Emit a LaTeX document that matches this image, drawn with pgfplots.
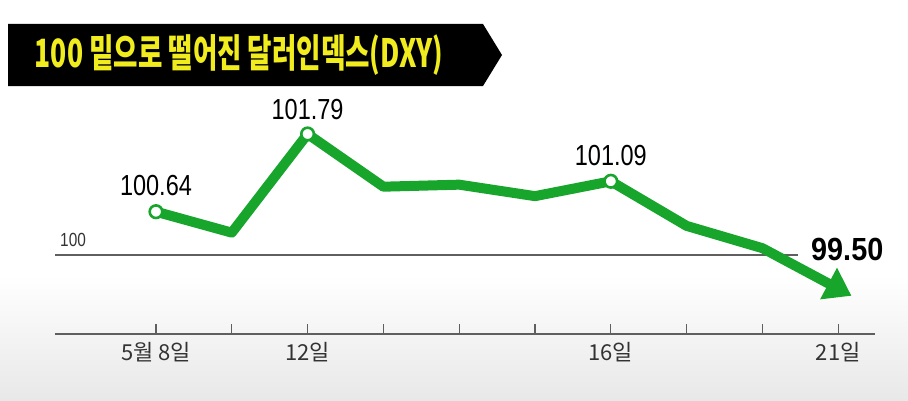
\documentclass[border=0pt]{standalone}
\usepackage{fontspec}
\usepackage{pgfplots}
\pgfplotsset{compat=1.18}
\usetikzlibrary{arrows.meta}
\setmainfont{Noto Sans CJK KR}
\newfontfamily\titlefont[FakeStretch=0.68]{Noto Sans CJK KR}
\newfontfamily\numfont[FakeStretch=0.81]{Liberation Sans}
\newfontfamily\bignumfont[FakeStretch=0.9]{Liberation Sans}
\definecolor{dgreen}{RGB}{24,165,44}
\definecolor{tyellow}{RGB}{240,236,30}
\definecolor{axgray}{RGB}{95,95,95}
\begin{document}
\begin{tikzpicture}
\begin{scope}[x=1bp,y=1bp]
\path[use as bounding box] (0,0) rectangle (908,400);
\shade[top color=white,bottom color=black!9] (0,0) rectangle (908,125);
\fill[black] (8,376) -- (483,376) -- (502,345) -- (483,314) -- (8,314) -- cycle;
\node[text=tyellow, inner sep=0pt, font=\titlefont\bfseries\fontsize{39bp}{39bp}\selectfont] at (239,345) {100 밑으로 떨어진 달러인덱스(DXY)};
\end{scope}
\begin{axis}[
  at={(55bp,66bp)}, anchor=south west, scale only axis,
  width=820bp, height=234bp,
  xmin=-1.332, xmax=9.485, ymin=98.83, ymax=102.293,
  axis x line*=bottom, axis y line=none, clip=false,
  axis line style={axgray, line width=2bp},
  xtick={0,1,2,3,4,5,6,7,8,9},
  xticklabels={5월 8일,,12일,,,,16일,,,21일},
  xtick align=inside, major tick length=10bp,
  tick style={axgray, line width=1.2bp},
  xticklabel style={font=\fontsize{22bp}{22bp}\selectfont, text=black!80, yshift=-5bp},
]
\addplot[axgray, line width=1.5bp, forget plot] coordinates {(-1.332,100) (8.47,100)};
\addplot[dgreen, line width=10bp, line join=round, shorten >=-15bp, -{Triangle[length=26bp,width=34bp]}] coordinates {
 (0,100.64) (1,100.33) (2,101.79) (3,101.01) (4,101.04) (5,100.87) (6,101.09) (7,100.43) (8,100.10) (9,99.50)};
\addplot[only marks, mark=*, mark size=6.3bp, mark options={fill=white, draw=dgreen, line width=2.6bp}] coordinates {(0,100.64) (2,101.79) (6,101.09)};
\node[font=\numfont\fontsize{29bp}{29bp}\selectfont, inner sep=0pt] at (axis cs:0,100.64) [yshift=26bp] {100.64};
\node[font=\numfont\fontsize{29bp}{29bp}\selectfont, inner sep=0pt] at (axis cs:2,101.79) [yshift=24bp] {101.79};
\node[font=\numfont\fontsize{29bp}{29bp}\selectfont, inner sep=0pt] at (axis cs:6,101.09) [yshift=26bp] {101.09};
\node[font=\bignumfont\bfseries\fontsize{32bp}{32bp}\selectfont, inner sep=0pt] at (axis cs:9,100) [xshift=9bp, yshift=5bp] {99.50};
\node[font=\numfont\fontsize{19bp}{19bp}\selectfont, text=black!80, inner sep=0pt, anchor=south west] at (axis cs:-1.332,100) [xshift=5bp, yshift=8bp] {100};
\end{axis}
\end{tikzpicture}
\end{document}
